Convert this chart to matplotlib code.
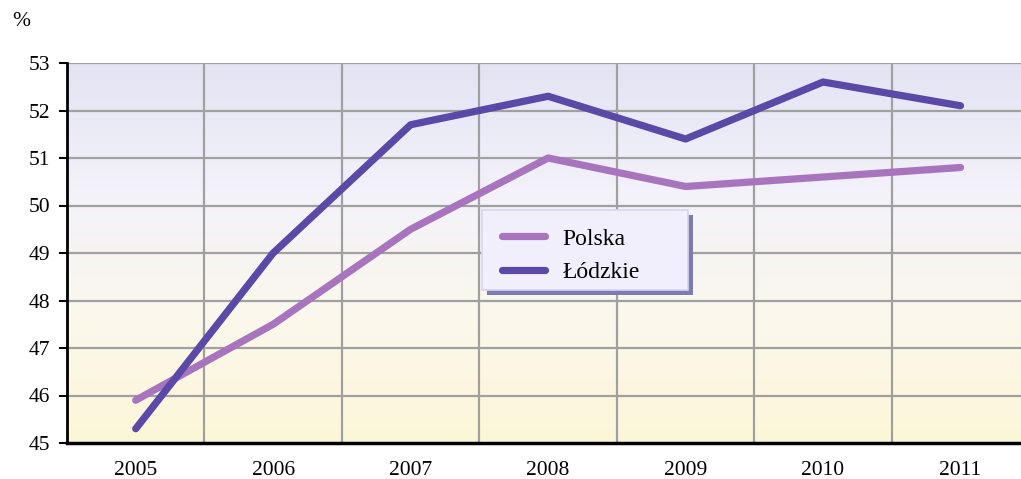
import matplotlib
matplotlib.use("Agg")
import matplotlib.pyplot as plt
import numpy as np
from matplotlib.colors import LinearSegmentedColormap
from matplotlib.patches import Rectangle

years = ["2005", "2006", "2007", "2008", "2009", "2010", "2011"]
polska = [45.9, 47.5, 49.5, 51.0, 50.4, 50.6, 50.8]
lodzkie = [45.3, 49.0, 51.7, 52.3, 51.4, 52.6, 52.1]
yticks = [45, 46, 47, 48, 49, 50, 51, 52, 53]

plt.rcParams['font.family'] = ['Liberation Serif', 'DejaVu Serif']

W, H = 1021, 479
fig = plt.figure(figsize=(W/100, H/100), dpi=100)
ax = fig.add_axes([67/W, 36/H, 1 - 67/W, 380/H])

x = np.arange(len(years))
xmin, xmax = -0.5, 6.44
ax.set_xlim(xmin, xmax)
ax.set_ylim(45, 53)

# gradient background
cmap = LinearSegmentedColormap.from_list("bg", ["#fdf6d8", "#fbf8ec", "#f3f2fa", "#e3e3f3"])
grad = np.linspace(0, 1, 256).reshape(-1, 1)
ax.imshow(grad, cmap=cmap, aspect='auto', extent=[xmin, xmax, 45, 53], origin='lower', zorder=0)

# grid
for yv in yticks[1:]:
    ax.axhline(yv, color='#a0a0a0', lw=1.6, zorder=1)
for b in np.arange(0.5, 6.5, 1.0):
    ax.axvline(b, color='#a0a0a0', lw=1.6, zorder=1)

l1, = ax.plot(x, polska, color='#a874bd', lw=5.2, solid_capstyle='round', label='Polska', zorder=3)
l2, = ax.plot(x, lodzkie, color='#5a49a6', lw=5.2, solid_capstyle='round', label='Łódzkie', zorder=3)

ax.set_xticks(x)
ax.set_xticklabels(years, fontsize=15.5)
ax.tick_params(axis='x', length=0, pad=13)
ax.set_yticks(yticks)
ax.set_yticklabels([str(v) for v in yticks], fontsize=15.5)
ax.tick_params(axis='y', direction='out', length=6, width=1.5, pad=6)

for s in ['top', 'right']:
    ax.spines[s].set_visible(False)
ax.spines['left'].set_linewidth(2)
ax.spines['bottom'].set_linewidth(2.5)

fig.text(12/W, 1 - 22/H, '%', fontsize=15.5, va='center', ha='left')

# legend box (manual frame with shadow)
lx0, lx1, ly0, ly1 = 482, 688, 210, 290
fig.patches.append(Rectangle(((lx0+5)/W, 1-(ly1+5)/H), (lx1-lx0)/W, (ly1-ly0)/H,
                             transform=fig.transFigure, facecolor='#7d7bb2', edgecolor='none', zorder=4))
fig.patches.append(Rectangle((lx0/W, 1-ly1/H), (lx1-lx0)/W, (ly1-ly0)/H,
                             transform=fig.transFigure, facecolor='#f2effc', edgecolor='#d6d6f2',
                             lw=1.2, zorder=4.5))

leg = fig.legend([l1, l2], ['Polska', 'Łódzkie'], loc='upper left',
                 bbox_to_anchor=(502/W, 1-228/H), bbox_transform=fig.transFigure,
                 fontsize=17, frameon=False,
                 handlelength=1.8, handletextpad=0.75, borderpad=0, labelspacing=0.5,
                 borderaxespad=0)
leg.set_zorder(6)

fig.savefig('out.png', dpi=100)
